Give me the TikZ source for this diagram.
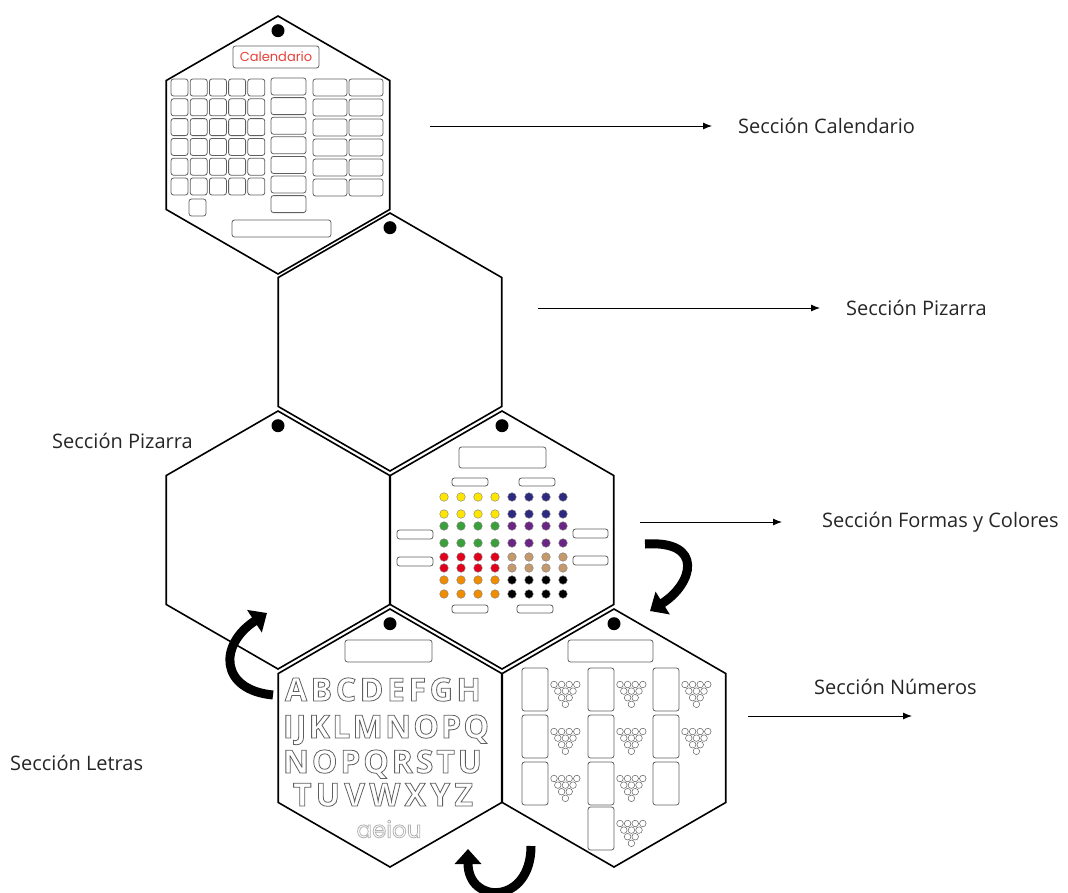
\documentclass[tikz,border=0pt]{standalone}
\usepackage{fontspec}
\setmainfont{Open Sans}
\newfontfamily\redondafont{Poppins}
\usetikzlibrary{shapes.geometric}
\usetikzlibrary{arrows.meta, positioning}
\definecolor{bordecolor}{RGB}{95, 95, 95}
\definecolor{rojocal}{RGB}{232, 64, 58}
\definecolor{amarillo}{RGB}{255, 230, 0}
\definecolor{azulosc}{RGB}{46, 42, 128}
\definecolor{verde}{RGB}{58, 160, 58}
\definecolor{morado}{RGB}{106, 37, 133}
\definecolor{rojo}{RGB}{227, 0, 27}
\definecolor{beige}{RGB}{196, 154, 108}
\definecolor{naranja}{RGB}{240, 140, 0}
% letra hueca (solo contorno)
\newcommand\hueca[1]{\special{pdf:literal direct 1 Tr 0.8 w}#1\special{pdf:literal direct 0 Tr}}

\tikzset{
  hexa/.style={draw, line width=1.6pt, regular polygon, regular polygon sides=6,
    shape border rotate=30, minimum size=258pt, inner sep=0pt, outer sep=0pt},
  hoyo/.style={fill=black, circle, inner sep=0pt, minimum size=13pt},
  caja/.style={draw=bordecolor, line width=0.8pt, rounded corners=2.5pt},
  punto/.style={draw=gray, line width=0.4pt},
  bola/.style={draw=bordecolor, line width=0.5pt, fill=white},
  flecha/.style={-{Latex[length=9pt,width=7pt]}, line width=0.9pt},
  seccion/.style={anchor=west, inner sep=0pt, text=black!85, font=\fontsize{20}{24}\selectfont},
  giro/.style={line width=9pt, -{Triangle[length=15pt,width=26pt]}},
  letra/.style={anchor=base, inner sep=0pt, text=bordecolor, font=\fontsize{32}{32}\selectfont\bfseries},
}

\begin{document}
\begin{tikzpicture}[x=1pt, y=-1pt]
    \useasboundingbox (0,0) rectangle (1068,892);

    % hexagonos
    \node[hexa] (cal) at (278,145) {};
    \node[hexa] (piz1) at (390,342) {};
    \node[hexa] (piz2) at (278,540) {};
    \node[hexa] (col) at (502,540) {};
    \node[hexa] (let) at (390,738) {};
    \node[hexa] (num) at (614,738) {};
    \foreach \h in {cal,piz1,piz2,col,let,num}
        \node[hoyo, below=8pt of \h.north] (hoyo-\h) {};

    % calendario
    \draw[caja] (233,46) rectangle (319,68);
    \node[text=rojocal, font=\redondafont\fontsize{13}{15}\selectfont] (ncal) at (276,57) {Calendario};
    \foreach \c in {0,...,4}
        \foreach \r in {0,...,5}
            \draw[caja] ({171+19.2*\c},{79+19.8*\r}) rectangle ++(17,17);
    \draw[caja] (189,199) rectangle ++(17,17);
    \foreach \r in {0,...,6}
        \draw[caja] (271,{78+19.6*\r}) rectangle ++(35,17);
    \foreach \c in {0,1}
        \foreach \r in {0,...,5}
            \draw[caja] ({313+36*\c},{79+20*\r}) rectangle ++(34,17);
    \draw[caja] (232,220) rectangle (331,237);

    % formas y colores
    \draw[caja] (459,447) rectangle (546,468);
    \draw[caja] (452,478) rectangle (488,486);
    \draw[caja] (519,478) rectangle (555,486);
    \draw[caja] (397,530) rectangle (433,539);
    \draw[caja] (397,557) rectangle (433,566);
    \draw[caja] (573,529) rectangle (608,538);
    \draw[caja] (573,556) rectangle (608,565);
    \draw[caja] (452,605) rectangle (488,613);
    \draw[caja] (517,605) rectangle (553,613);
    \foreach \ya/\yb/\ci/\cd in {497/514/amarillo/azulosc, 526/543/verde/morado,
                                 557/568/rojo/beige, 580/594/naranja/black} {
        \foreach \y in {\ya,\yb} {
            \foreach \x in {444,461,478,495}
                \draw[punto, fill=\ci] (\x,\y) circle (4.3pt);
            \foreach \x in {512,529,546,563}
                \draw[punto, fill=\cd] (\x,\y) circle (4.3pt);
        }
    }

    % letras
    \draw[caja] (345,640) rectangle (432,662);
    \node[letra] (fila1) at (383,701) {\hueca{\makebox[196pt][s]{A\hfill B\hfill C\hfill D\hfill E\hfill F\hfill G\hfill H}}};
    \node[letra] (fila2) at (386,738) {\hueca{\makebox[206pt][s]{I\hfill J\hfill K\hfill L\hfill M\hfill N\hfill O\hfill P\hfill Q}}};
    \node[letra] (fila3) at (382.5,773) {\hueca{\makebox[199pt][s]{N\hfill O\hfill P\hfill Q\hfill R\hfill S\hfill T\hfill U}}};
    \node[letra] (fila4) at (383,806) {\hueca{\makebox[180pt][s]{T\hfill U\hfill V\hfill W\hfill X\hfill Y\hfill Z}}};
    \node[text=gray!60, font=\redondafont\fontsize{23}{23}\selectfont] (vocales) at (389,829) {\hueca{aeiou}};

    % numeros
    \draw[caja] (568,640) rectangle (653,662);
    \foreach \cx in {522,588,653}
        \foreach \cy in {668,715,762}
            \draw[caja] (\cx,\cy) rectangle ++(26,43);
    \draw[caja] (588,807) rectangle ++(26,43);
    \foreach \cx/\cy in {522/668, 522/715, 522/762, 588/668, 588/715,
                         588/762, 588/807, 653/668, 653/715} {
        \foreach \k in {0,...,3} {
            \pgfmathtruncatemacro\n{3-\k}
            \foreach \j in {0,...,\n}
                \draw[bola] ({\cx+32+7.6*\j+3.8*\k},{\cy+16.5+6.6*\k}) circle (3.3pt);
        }
    }

    % giros
    \draw[giro] (273,695) .. controls (220,690) and (218,645) .. (267,613);
    \draw[giro] (645,544) .. controls (705,540) and (693,584) .. (650,611);
    \draw[giro] (531,846) .. controls (531,905) and (468,905) .. (468,849);

    % etiquetas
    \node[seccion] (tcal) at (738,126) {Sección Calendario};
    \node[seccion] (tpiz1) at (846,308) {Sección Pizarra};
    \node[seccion] (tpiz2) at (52,441) {Sección Pizarra};
    \node[seccion] (tcol) at (822,522) {Sección Formas y Colores};
    \node[seccion] (tnum) at (814,687) {Sección Números};
    \node[seccion] (tlet) at (10,763) {Sección Letras};

    \coordinate (acal) at (430,126);
    \coordinate (apiz) at (538,308);
    \coordinate (acol) at (640,522);
    \coordinate (anum1) at (748,716);
    \coordinate (anum2) at (912,716);
    \draw[flecha] (acal) -- ([xshift=-26pt]tcal.west);
    \draw[flecha] (apiz) -- ([xshift=-26pt]tpiz1.west);
    \draw[flecha] (acol) -- ([xshift=-40pt]tcol.west);
    \draw[flecha] (anum1) -- (anum2);
\end{tikzpicture}
\end{document}
